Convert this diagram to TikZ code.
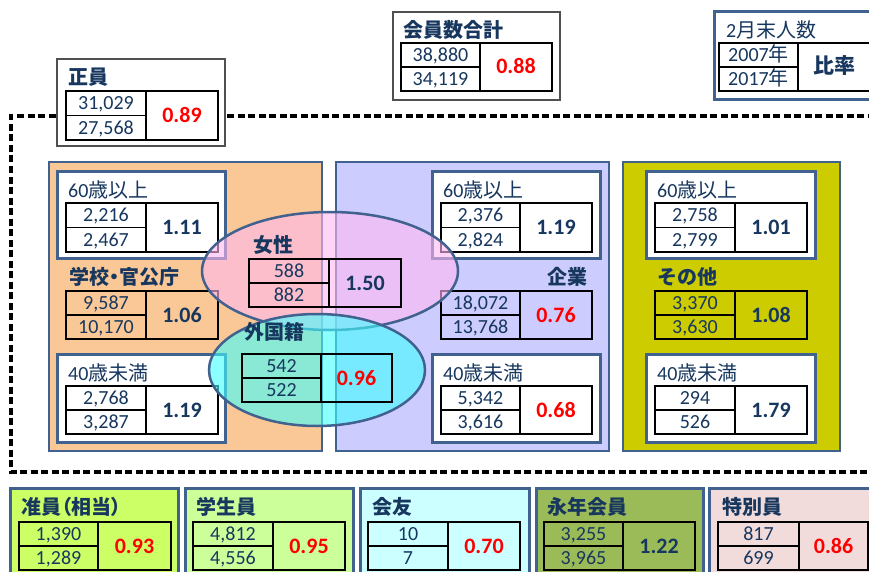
\documentclass[tikz,border=0pt]{standalone}
\usepackage{fontspec}
\setmainfont{Carlito}
\newfontfamily\jp{Noto Sans CJK JP}
\usetikzlibrary{shapes.geometric}
\definecolor{navy}{HTML}{17375E}
\definecolor{bgray}{HTML}{41618F}
\definecolor{dgray}{HTML}{505050}
\definecolor{orng}{HTML}{FAC896}
\definecolor{lav}{HTML}{CCCCFF}
\definecolor{olive}{HTML}{CCCC00}
\definecolor{pinkE}{HTML}{FFB8F0}
\definecolor{cyanE}{HTML}{40FFFF}
\definecolor{jun}{HTML}{CCFF66}
\definecolor{stu}{HTML}{CCFF99}
\definecolor{kaiyu}{HTML}{CCFFFF}
\definecolor{eien}{HTML}{9BBB59}
\definecolor{toku}{HTML}{F2DCDB}
\newcommand\rd{\color{red}}
\tikzset{
  tabline/.style={draw=black, line width=1.1pt},
  num/.style={font=\fontsize{20}{24}\selectfont, text=navy, inner sep=0pt, text height=12.6pt, text depth=0pt},
  ratio/.style={font=\fontsize{22}{26}\selectfont\bfseries, text=navy, inner sep=0pt, text height=14pt, text depth=0pt},
  title/.style={font=\fontsize{20}{24}\selectfont\jp\bfseries, text=navy, anchor=west, inner sep=0pt},
  sub/.style={font=\fontsize{20}{24}\selectfont, text=navy, anchor=west, inner sep=0pt},
  panel/.style={draw=bgray, line width=2.5pt},
  ibox/.style={draw=bgray, line width=3pt, fill=white},
  topbox/.style={draw=dgray, line width=1.5pt, fill=white},
  bbox/.style={draw=bgray, line width=3pt},
  ell/.style={ellipse, draw=bgray, line width=2.5pt, fill opacity=0.6, draw opacity=1, inner sep=0pt},
  dashline/.style={draw=black, line width=3.2pt, dash pattern=on 7pt off 3.5pt},
}
\newcommand\tabl[9]{%
  \draw[tabline] (#2,#3) rectangle (#5,#6);
  \draw[tabline] (#4,#3) -- (#4,#6);
  \draw[tabline] (#2,{(#3+#6)/2}) -- (#4,{(#3+#6)/2});
  \node[num] (#1-a) at ({(#2+#4)/2},{#3+(#6-#3)/4}) {#7};
  \node[num] (#1-b) at ({(#2+#4)/2},{#6-(#6-#3)/4}) {#8};
  \node[ratio] (#1-r) at ({(#4+#5)/2},{(#3+#6)/2}) {#9};
}
\begin{document}
\begin{tikzpicture}[x=1pt,y=-1pt]
\useasboundingbox (0,0) rectangle (869,572);
\fill[white] (0,0) rectangle (869,572);
\clip (0,0) rectangle (869,572);
% dashed frame
\draw[dashline] (885,116) -- (11,116) -- (11,472) -- (885,472);
% top boxes
\draw[topbox] (57,59) rectangle (225,146);
\node[title] (seiT) at (68,77) {正員};
\tabl{sei}{66}{91}{146}{218}{140}{31,029}{27,568}{\rd 0.89}
\draw[topbox] (393,12) rectangle (560,100);
\node[title] (totT) at (403,30) {会員数合計};
\tabl{tot}{401}{43}{480}{552}{91}{38,880}{34,119}{\rd 0.88}
\draw[ibox] (714,12) rectangle (890,100);
\node[sub] (legT) at (726,30) {2{\jp 月末人数}};
\tabl{leg}{719}{43}{798}{870}{91}{2007{\jp 年}}{2017{\jp 年}}{\jp\bfseries\fontsize{21}{24}\selectfont 比率}
% panels
\draw[panel, fill=orng] (49,162) rectangle (322,451);
\draw[panel, fill=lav] (336,162) rectangle (609,451);
\draw[panel, fill=olive] (623,162) rectangle (840,451);
% left panel
\draw[ibox] (57,172) rectangle (225,258);
\node[sub] (l60T) at (68,190) {60{\jp 歳以上}};
\tabl{l60}{66}{203}{146}{218}{252}{2,216}{2,467}{1.11}
\node[title] (lmT) at (69,277) {\addfontfeature{RawFeature=+palt}学校・官公庁};
\tabl{lm}{66}{291}{146}{218}{339}{9,587}{10,170}{1.06}
\draw[ibox] (57,354) rectangle (225,442);
\node[sub] (l40T) at (68,373) {40{\jp 歳未満}};
\tabl{l40}{66}{386}{146}{218}{434}{2,768}{3,287}{1.19}
% middle panel
\draw[ibox] (432,172) rectangle (600,258);
\node[sub] (m60T) at (443,190) {60{\jp 歳以上}};
\tabl{m60}{441}{203}{520}{592}{252}{2,376}{2,824}{1.19}
\node[title, anchor=east] (mmT) at (588,277) {企業};
\tabl{mm}{441}{291}{520}{592}{339}{18,072}{13,768}{\rd 0.76}
\draw[ibox] (432,354) rectangle (600,442);
\node[sub] (m40T) at (443,373) {40{\jp 歳未満}};
\tabl{m40}{441}{386}{520}{592}{434}{5,342}{3,616}{\rd 0.68}
% right panel
\draw[ibox] (646,172) rectangle (815,258);
\node[sub] (r60T) at (657,190) {60{\jp 歳以上}};
\tabl{r60}{655}{203}{735}{807}{252}{2,758}{2,799}{1.01}
\node[title] (rmT) at (657,277) {その他};
\tabl{rm}{655}{291}{735}{807}{339}{3,370}{3,630}{1.08}
\draw[ibox] (646,354) rectangle (815,442);
\node[sub] (r40T) at (657,373) {40{\jp 歳未満}};
\tabl{r40}{655}{386}{735}{807}{434}{294}{526}{1.79}
% ellipses
\node[ell, fill=pinkE, minimum width=256pt, minimum height=118pt] (fem) at (330,271) {};
\node[title] (femT) at (253,245) {女性};
\tabl{fe}{249}{259}{329}{401}{307}{588}{882}{1.50}
\node[ell, fill=cyanE, minimum width=216pt, minimum height=112pt] (frn) at (317,370) {};
\node[title] (frnT) at (244,332) {外国籍};
\tabl{fr}{242}{354}{321}{392}{402}{542}{522}{\rd 0.96}
% bottom boxes
\draw[bbox, fill=jun] (10,488) rectangle (178,595);
\node[title] (junT) at (21,507) {\addfontfeature{RawFeature=+palt}准員（相当）};
\tabl{jn}{19}{522}{98}{171}{570}{1,390}{1,289}{\rd 0.93}
\draw[bbox, fill=stu] (185,488) rectangle (353,595);
\node[title] (stuT) at (196,507) {学生員};
\tabl{st}{193}{522}{273}{345}{570}{4,812}{4,556}{\rd 0.95}
\draw[bbox, fill=kaiyu] (360,488) rectangle (529,595);
\node[title] (kyT) at (372,507) {会友};
\tabl{ky}{368}{522}{448}{520}{570}{10}{7}{\rd 0.70}
\draw[bbox, fill=eien] (536,488) rectangle (703,595);
\node[title] (eiT) at (547,507) {永年会員};
\tabl{ei}{544}{522}{623}{695}{570}{3,255}{3,965}{1.22}
\draw[bbox, fill=toku] (709,488) rectangle (890,595);
\node[title] (tkT) at (722,507) {特別員};
\tabl{tk}{718}{522}{799}{868}{570}{817}{699}{\rd 0.86}
\end{tikzpicture}
\end{document}
